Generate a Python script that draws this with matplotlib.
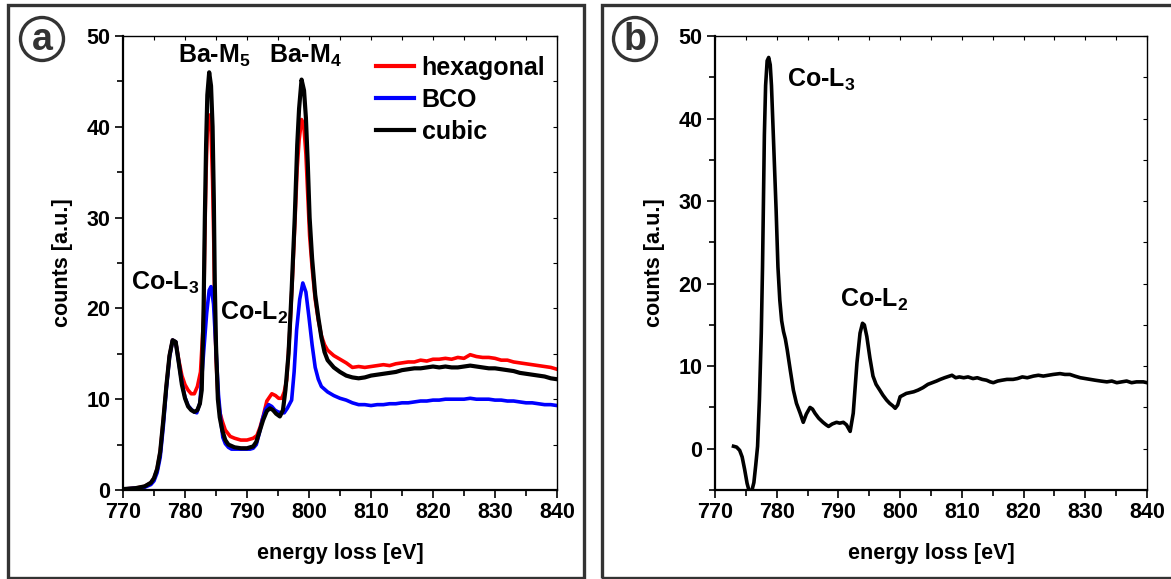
import matplotlib
matplotlib.use("Agg")
import matplotlib.pyplot as plt
from matplotlib.patches import Rectangle, Circle
from matplotlib.ticker import MultipleLocator

plt.rcParams['font.family'] = ['Liberation Sans', 'DejaVu Sans']
plt.rcParams['font.weight'] = 'bold'
plt.rcParams['mathtext.fontset'] = 'custom'
plt.rcParams['mathtext.rm'] = 'Liberation Sans:bold'
plt.rcParams['mathtext.bf'] = 'Liberation Sans:bold'
plt.rcParams['mathtext.default'] = 'rm'

# ---------------- panel (a): Ba-M / Co-L edges of three phases ----------------
e_hex = [770, 772, 773.5, 774.5, 775, 775.5, 776, 776.5, 777, 777.5, 778, 778.5,
         779, 779.5, 780, 780.5, 781, 781.5, 782, 782.5, 783.0, 783.2, 783.4,
         783.6, 783.9, 784.2, 784.45, 784.65, 784.8, 785.0, 785.3, 785.6, 786.0,
         786.5, 787.3, 788, 789, 790, 791, 791.6, 792.1, 792.6, 793.2, 794.0,
         794.6, 795.1, 795.6, 796.0, 796.4, 796.9, 797.3, 797.7, 798.1, 798.4,
         798.8, 799.2, 799.5, 799.8, 800.1, 800.5, 801, 801.5, 802, 802.5, 803,
         804, 805, 806, 807, 808, 809, 810, 811, 812, 813, 814, 815, 816, 817,
         818, 819, 820, 821, 822, 823, 824, 825, 826, 827, 828, 829, 830, 831,
         832, 833, 834, 835, 836, 837, 838, 839, 840]
hex_counts = [0.1, 0.2, 0.4, 0.8, 1.3, 2.3, 4.2, 7.7, 11.5, 14.8, 16.5, 16.3,
              14.3, 12.6, 11.6, 11.0, 10.6, 10.6, 11.4, 13.0, 19.0, 28.0, 35.0,
              39.5, 41.3, 39.5, 34.0, 27.0, 20.0, 14.5, 10.5, 8.6, 7.6,
              6.6, 5.9, 5.7, 5.5, 5.5, 5.7, 6.0, 6.9, 8.1, 9.8, 10.6,
              10.4, 10.1, 10.1, 10.8, 12.1, 17.5, 23.0, 29.0, 35.5, 38.5,
              40.8, 39.8, 37.0, 32.5, 28.0, 24.5, 21.0, 18.7, 17.0, 16.0, 15.4,
              14.8, 14.4, 14.0, 13.5, 13.6, 13.5, 13.6, 13.7, 13.8, 13.7, 13.9, 14.0, 14.1, 14.1,
              14.3, 14.2, 14.4, 14.4, 14.5, 14.4, 14.6, 14.5, 14.9, 14.7, 14.6, 14.6, 14.5, 14.3,
              14.3, 14.1, 14.0, 13.9, 13.8, 13.7, 13.6, 13.5, 13.3]

e_bco = [770, 772, 773.5, 774.5, 775, 775.5, 776, 776.5, 777, 777.5, 778, 778.5,
         779, 779.5, 780, 780.5, 781, 781.5, 781.9, 782.4, 783.0, 783.5, 783.9,
         784.2, 784.6, 785.0, 785.4, 785.8, 786.1, 786.5, 787.0, 787.5, 788.5,
         789.5, 790.5, 791.0, 791.5, 792.0, 792.5, 793.0, 793.5, 794.0, 794.5,
         795.0, 795.5, 796.0, 796.5, 797.2, 797.6, 798.0, 798.5, 799.0, 799.5,
         800.0, 800.5, 801.0, 801.5, 802, 803, 804, 805, 806, 807, 808, 809, 810,
         811, 812, 813, 814, 815, 816, 817, 818, 819, 820, 821, 822, 823, 824,
         825, 826, 827, 828, 829, 830, 831, 832, 833, 834, 835, 836, 837, 838,
         839, 840]
bco_counts = [0.1, 0.2, 0.3, 0.6, 1.0, 1.9, 3.6, 7.0, 11.2, 14.6, 16.5, 16.3,
              14.0, 11.8, 10.2, 9.3, 8.9, 8.6, 8.5, 9.6, 15.1, 19.5, 22.0,
              22.4, 20.5, 15.5, 10.5, 7.5, 5.8, 5.1, 4.7, 4.5, 4.5,
              4.5, 4.5, 4.6, 5.0, 6.3, 7.8, 8.9, 9.4, 9.2, 8.8,
              8.6, 8.5, 8.5, 9.0, 9.9, 13.0, 17.6, 21.0, 22.8, 21.8,
              19.0, 16.0, 13.5, 12.2, 11.4, 10.8, 10.4, 10.1, 9.9, 9.6, 9.4, 9.4, 9.3,
              9.4, 9.4, 9.5, 9.5, 9.6, 9.6, 9.7, 9.8, 9.8, 9.9, 9.9, 10.0, 10.0, 10.0,
              10.0, 10.1, 10.0, 10.0, 10.0, 9.9, 9.9, 9.8, 9.8, 9.7, 9.6, 9.6, 9.5, 9.4,
              9.4, 9.3]

e_cubic = [770, 772, 773.5, 774.5, 775, 775.5, 776, 776.5, 777, 777.5, 778, 778.5,
           779, 779.5, 780, 780.5, 781, 781.5, 782.0, 782.4, 782.7, 783.0, 783.2,
           783.4, 783.6, 783.9, 784.2, 784.45, 784.65, 784.8, 785.0, 785.3, 785.6,
           786.0, 786.5, 787, 788, 789, 790, 791, 791.5, 792, 792.6, 793.2, 793.7,
           794.2, 794.7, 795.3, 795.8, 796.2, 796.7, 797.2, 797.7, 798.1, 798.4,
           798.8, 799.2, 799.5, 799.8, 800.1, 800.5, 801.0, 801.5, 802.0, 802.5,
           803, 804, 805, 806, 807, 808, 809, 810, 811, 812, 813, 814, 815, 816,
           817, 818, 819, 820, 821, 822, 823, 824, 825, 826, 827, 828, 829, 830,
           831, 832, 833, 834, 835, 836, 837, 838, 839, 840]
cubic_counts = [0.1, 0.2, 0.4, 0.8, 1.3, 2.3, 4.2, 7.7, 11.5, 14.8, 16.5, 16.3,
                14.0, 11.6, 10.1, 9.2, 8.8, 8.6, 8.8, 9.5, 11.0, 20.0, 30.0,
                38.0, 43.5, 46.0, 44.5, 40.0, 32.0, 23.0, 16.0, 10.0, 8.0,
                6.6, 5.5, 5.0, 4.7, 4.6, 4.6, 4.8, 5.3, 6.4, 7.7, 8.7, 9.0,
                8.8, 8.4, 8.1, 8.8, 11.0, 15.0, 22.0, 30.0, 38.0, 42.0,
                45.2, 44.0, 41.0, 36.0, 30.0, 25.5, 21.5, 19.0, 16.8, 15.2,
                14.3, 13.5, 13.0, 12.6, 12.4, 12.3, 12.4, 12.6, 12.7, 12.8, 12.9, 13.0, 13.2, 13.3,
                13.4, 13.4, 13.5, 13.6, 13.5, 13.6, 13.5, 13.5, 13.6, 13.7, 13.6, 13.5, 13.4, 13.4,
                13.3, 13.2, 13.1, 12.9, 12.8, 12.7, 12.6, 12.5, 12.3, 12.2]

# ---------------- panel (b): Co-L edges ----------------
e_co = [773.0, 773.5, 774.0, 774.4, 774.8, 775.2, 775.6, 776.0, 776.3, 776.6,
        776.9, 777.2, 777.5, 777.7, 777.85, 778.0, 778.2, 778.45, 778.7, 778.95,
        779.15, 779.4, 779.65, 779.9, 780.2, 780.5, 780.8, 781.1, 781.4, 781.7,
        782.2, 782.7, 783.2, 783.8, 784.3, 784.8, 785.4, 785.8, 786.2, 786.8,
        787.5, 788.0, 788.4, 789.0, 789.7, 790.2, 790.8, 791.3, 791.9, 792.4,
        793.0, 793.5, 793.9, 794.2, 794.6, 795.1, 795.6, 796.1, 796.7, 797.2,
        797.8, 798.3, 798.8, 799.2, 799.6, 800.0, 800.5, 801.0, 801.6, 802.2,
        802.9, 803.7, 804.5, 805.2, 805.9, 806.5, 807.2, 808.0, 808.4, 809.0,
        809.6, 810.3, 811.0, 811.8, 812.5, 813.3, 814.0, 814.6, 815.1, 815.8,
        816.5, 817.3, 818.3, 819.0, 819.8, 820.6, 821.6, 822.4, 823.2, 824.0,
        824.8, 825.9, 826.7, 827.5, 828.3, 829.2, 830.0, 830.8, 831.6, 832.5,
        833.5, 834.3, 835.1, 835.9, 836.7, 837.5, 838.3, 839.4, 840.0]
co_counts = [0.3, 0.2, -0.2, -1.0, -2.5, -4.2, -5.3, -5.0, -4.1, -2.0,
             0.3, 6.0, 14.0, 22.0, 30.0, 38.0, 44.0, 47.0, 47.4, 46.5,
             44.0, 39.0, 34.0, 29.0, 22.0, 18.0, 15.5, 14.2, 13.3, 12.0,
             9.5, 7.1, 5.5, 4.3, 3.2, 4.2, 5.0, 4.8, 4.3, 3.7,
             3.2, 2.9, 2.7, 3.0, 3.2, 3.1, 3.2, 2.9, 2.1, 4.3,
             10.4, 14.0, 15.2, 15.0, 13.6, 11.0, 8.8, 7.8, 7.1, 6.5,
             5.9, 5.5, 5.2, 4.9, 5.3, 6.3, 6.5, 6.7, 6.8, 6.9,
             7.1, 7.4, 7.8, 8.0, 8.2, 8.4, 8.6, 8.8, 8.9, 8.6,
             8.7, 8.6, 8.7, 8.5, 8.6, 8.4, 8.3, 8.1, 8.0, 8.2,
             8.3, 8.4, 8.4, 8.5, 8.7, 8.6, 8.8, 8.9, 8.8, 8.9,
             9.0, 9.1, 9.0, 9.0, 8.8, 8.6, 8.5, 8.4, 8.3, 8.2,
             8.1, 8.2, 8.0, 8.1, 8.2, 8.0, 8.1, 8.1, 8.0]

W, H = 1171, 579
fig = plt.figure(figsize=(W / 100, H / 100), dpi=100)
FS = 15.5        # tick and axis labels
FS_ANN = 18      # peak labels and legend
FRAME = '#333333'


def fx(px):
    return px / W


def fy(py):
    return 1 - py / H


def style_axes(ax, ylim, yticks):
    ax.set_xlim(770, 840)
    ax.set_ylim(*ylim)
    ax.set_xticks(range(770, 841, 10))
    ax.set_yticks(yticks)
    ax.xaxis.set_minor_locator(MultipleLocator(5))
    ax.yaxis.set_minor_locator(MultipleLocator(5))
    ax.tick_params(which='both', direction='out', labelsize=FS, width=1.2,
                   top=False, right=False, pad=3)
    ax.tick_params(which='major', length=6)
    ax.tick_params(which='minor', length=4)
    for lab in ax.get_xticklabels() + ax.get_yticklabels():
        lab.set_fontweight('bold')
    ax.spines['left'].set_linewidth(1.6)
    ax.spines['bottom'].set_linewidth(1.6)
    ax.spines['top'].set_linewidth(1.0)
    ax.spines['right'].set_linewidth(1.0)
    # short inward ticks on the mirrored spines
    sec_x = ax.secondary_xaxis('top')
    sec_x.set_xticks(range(770, 841, 5))
    sec_x.tick_params(direction='in', length=3, width=0.8, labeltop=False)
    sec_x.spines['top'].set_visible(False)
    sec_y = ax.secondary_yaxis('right')
    sec_y.set_yticks(range(int(ylim[0]), int(ylim[1]) + 1, 5))
    sec_y.tick_params(direction='in', length=3, width=0.8, labelright=False)
    sec_y.spines['right'].set_visible(False)
    ax.set_xlabel('energy loss [eV]', fontsize=FS, fontweight='bold', labelpad=14)
    ax.set_ylabel('counts [a.u.]', fontsize=FS, fontweight='bold', labelpad=10)


# panel frames
fig.add_artist(Rectangle((fx(8), fy(578)), fx(576), 573 / H, transform=fig.transFigure,
                         fill=False, lw=2.4, edgecolor=FRAME))
fig.add_artist(Rectangle((fx(602), fy(578)), fx(600), 573 / H, transform=fig.transFigure,
                         fill=False, lw=2.4, edgecolor=FRAME))

# ---- panel a ----
ax1 = fig.add_axes([fx(123), fy(490), fx(557 - 123), (490 - 36) / H])
ax1.plot(e_hex, hex_counts, color='#ff0000', lw=2.6, label='hexagonal')
ax1.plot(e_bco, bco_counts, color='#0000ff', lw=2.6, label='BCO')
ax1.plot(e_cubic, cubic_counts, color='black', lw=3.0, label='cubic')
style_axes(ax1, (0, 50), range(0, 51, 10))
leg = ax1.legend(loc='upper left', bbox_to_anchor=(0.583, 0.957), frameon=False,
                 prop={'size': FS_ANN, 'weight': 'bold'}, handlelength=1.52,
                 handletextpad=0.3, labelspacing=0.32, borderpad=0, borderaxespad=0)
for ln in leg.get_lines():
    ln.set_linewidth(3)

ann = dict(fontsize=FS_ANN, fontweight='bold', ha='center', va='baseline')
ax1.text(784.8, 47.0, r'Ba-M$_{5}$', **ann)
ax1.text(799.4, 47.0, r'Ba-M$_{4}$', **ann)
ax1.text(776.8, 22.0, r'Co-L$_{3}$', **ann)
ax1.text(791.1, 18.7, r'Co-L$_{2}$', **ann)

# ---- panel b ----
ax2 = fig.add_axes([fx(715), fy(490), fx(1147 - 715), (490 - 36) / H])
ax2.plot(e_co, co_counts, color='black', lw=2.6)
style_axes(ax2, (-5, 50), range(0, 51, 10))
ax2.text(787.2, 43.9, r'Co-L$_{3}$', **ann)
ax2.text(795.8, 17.2, r'Co-L$_{2}$', **ann)

# circled panel letters (drawn in inches so they stay round)
for cx, cy, letter in ((42, 39, 'a'), (635, 39, 'b')):
    centre = (cx / 100, (H - cy) / 100)
    fig.add_artist(Circle(centre, 0.215, transform=fig.dpi_scale_trans,
                          fill=False, lw=2.4, edgecolor=FRAME))
    fig.text(centre[0], centre[1] - 0.01, letter, transform=fig.dpi_scale_trans,
             fontsize=27, fontweight='bold', color=FRAME, ha='center', va='center')

fig.savefig('out.png', dpi=100)
